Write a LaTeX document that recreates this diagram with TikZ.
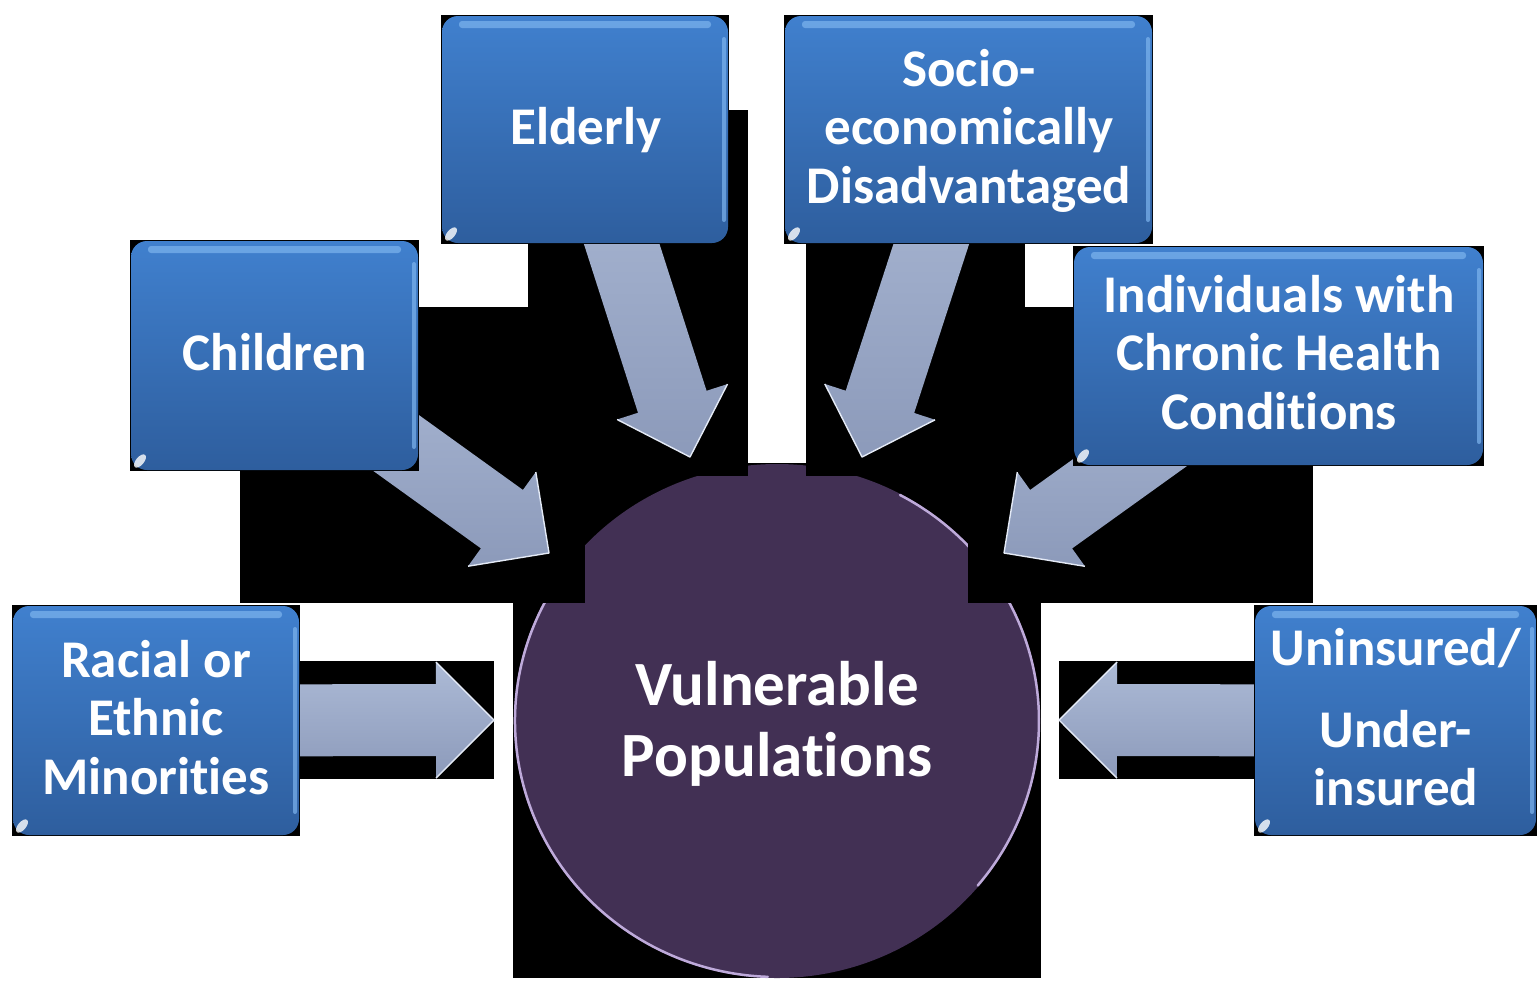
\documentclass[tikz,border=0pt]{standalone}
\usepackage{fontspec}
\setmainfont{Carlito}[Ligatures={NoCommon,NoRare,NoContextual}]
\usetikzlibrary{calc,shapes.geometric}
\definecolor{boxtop}{RGB}{64,128,206}
\definecolor{boxbot}{RGB}{46,94,158}
\definecolor{boxhl}{RGB}{125,180,238}
\definecolor{arrtop}{RGB}{172,186,214}
\definecolor{arrbot}{RGB}{140,154,186}
\definecolor{arredge}{RGB}{228,234,246}
\definecolor{circfill}{RGB}{66,48,84}
\definecolor{circrim}{RGB}{190,170,218}
\pgfdeclarelayer{circlayer}
\pgfdeclarelayer{arrlayer}
\pgfsetlayers{circlayer,arrlayer,main}
\tikzset{
  boxst/.style={rectangle, rounded corners=16bp, top color=boxtop, bottom color=boxbot, draw=none, inner sep=0pt},
  lbl/.style={font=\bfseries\fontsize{53bp}{58.5bp}\selectfont, text=white, inner sep=0pt, anchor=base},
  biglbl/.style={font=\bfseries\fontsize{63bp}{71bp}\selectfont, text=white, inner sep=0pt, anchor=base},
  arrowfill/.style={top color=arrtop, bottom color=arrbot, draw=none},
  arredgest/.style={draw=arredge, line width=1.4bp, line join=round},
  bgblack/.style={fill=black},
  rim/.style={draw=circrim, line width=2.5bp, line cap=round},
}
\newcommand\bluebox[5]{%
  \fill[bgblack] (#2,#3) rectangle (#4,#5);
  \node[boxst, minimum width={(#4-#2-2)*1bp}, minimum height={(#5-#3-2)*1bp}] (#1) at ({(#2+#4)/2},{(#3+#5)/2}) {};
  \fill[boxhl, rounded corners=3bp, opacity=0.7] ({#2+18},{#3+6}) rectangle ({#4-18},{#3+13});
  \fill[boxhl, rounded corners=2bp, opacity=0.7] ({#4-7},{#3+22}) rectangle ({#4-3},{#5-22});
  \fill[white, opacity=0.8, rotate around={-40:({#2+10},{#5-10})}] ({#2+10},{#5-10}) ellipse[x radius=4, y radius=8];
}
\newcommand\blockarrow[2]{%
  \coordinate (bas) at (#1);
  \coordinate (bat) at (#2);
  \coordinate (bah) at ($(bat)!58bp!(bas)$);
  \fill[arrowfill] ($(bas)!36bp!90:(bat)$) -- ($(bah)!36bp!90:(bat)$) -- ($(bah)!58bp!90:(bat)$) -- (bat)
     -- ($(bah)!58bp!-90:(bat)$) -- ($(bah)!36bp!-90:(bat)$) -- ($(bas)!36bp!-90:(bat)$) -- cycle;
  \draw[arredgest] ($(bah)!58bp!90:(bat)$) -- (bat) -- ($(bah)!58bp!-90:(bat)$);
}
\begin{document}
\begin{tikzpicture}[x=1bp,y=-1bp]
\useasboundingbox (0,0) rectangle (1537,981);
\begin{pgfonlayer}{circlayer}
  \fill[white] (0,0) rectangle (1537,981);
  \fill[bgblack] (513,463) rectangle (1041,978);
  \node[ellipse, fill=circfill, minimum width=526bp, minimum height=514bp, inner sep=0pt] (circ) at (777,721) {};
  \draw[rim] ($(circ.center)+(212:262 and 256)$) arc[start angle=212, end angle=92, x radius=262, y radius=256];
  \draw[rim] ($(circ.center)+(-62:262 and 256)$) arc[start angle=-62, end angle=40, x radius=262, y radius=256];
\end{pgfonlayer}
\node[biglbl] (tVul) at (777,705) {\begin{tabular}[t]{@{}c@{}}Vulnerable\\Populations\end{tabular}};

% boxes
\bluebox{elderly}{441}{15}{729}{244}
\bluebox{socio}{784}{15}{1153}{244}
\bluebox{children}{130}{240}{419}{471}
\bluebox{chronic}{1073}{246}{1484}{466}
\bluebox{racial}{12}{605}{300}{836}
\bluebox{uninsured}{1254}{605}{1537}{836}

\node[lbl] (tElderly) at (586,144) {Elderly};
\node[lbl] (tChildren) at (275,370) {Children};
\node[lbl] (tSocio) at (969,86) {\begin{tabular}[t]{@{}c@{}}Socio-\\economically\\Disadvantaged\end{tabular}};
\node[lbl] (tChronic) at (1279,312) {\begin{tabular}[t]{@{}c@{}}Individuals with\\Chronic Health\\Conditions\end{tabular}};
\node[lbl] (tRacial) at (156,677) {\begin{tabular}[t]{@{}c@{}}Racial or\\Ethnic\\Minorities\end{tabular}};
\node[lbl] (tUn1) at (1396,665) {Uninsured/};
\node[lbl] (tUn2) at (1396,747) {\begin{tabular}[t]{@{}c@{}}Under-\\insured\end{tabular}};

% arrow tips
\coordinate (tipElderly) at (690,457);
\coordinate (tipSocio) at (862,457);
\coordinate (tipChildren) at (549,553);
\coordinate (tipChronic) at (1004,553);
\coordinate (tipRacial) at (494,720);
\coordinate (tipUninsured) at (1059,720);

\begin{pgfonlayer}{arrlayer}
  \fill[bgblack] (528,110) rectangle (748,476);
  \fill[bgblack] (806,110) rectangle (1025,476);
  \fill[bgblack] (240,307) rectangle (585,603);
  \fill[bgblack] (968,307) rectangle (1313,603);
  \fill[bgblack] (300,661) rectangle (494,779);
  \fill[bgblack] (1059,661) rectangle (1254,779);
  \blockarrow{elderly}{tipElderly}
  \blockarrow{socio}{tipSocio}
  \blockarrow{children}{tipChildren}
  \blockarrow{chronic}{tipChronic}
  \blockarrow{racial}{tipRacial}
  \blockarrow{uninsured}{tipUninsured}
\end{pgfonlayer}
\end{tikzpicture}
\end{document}
